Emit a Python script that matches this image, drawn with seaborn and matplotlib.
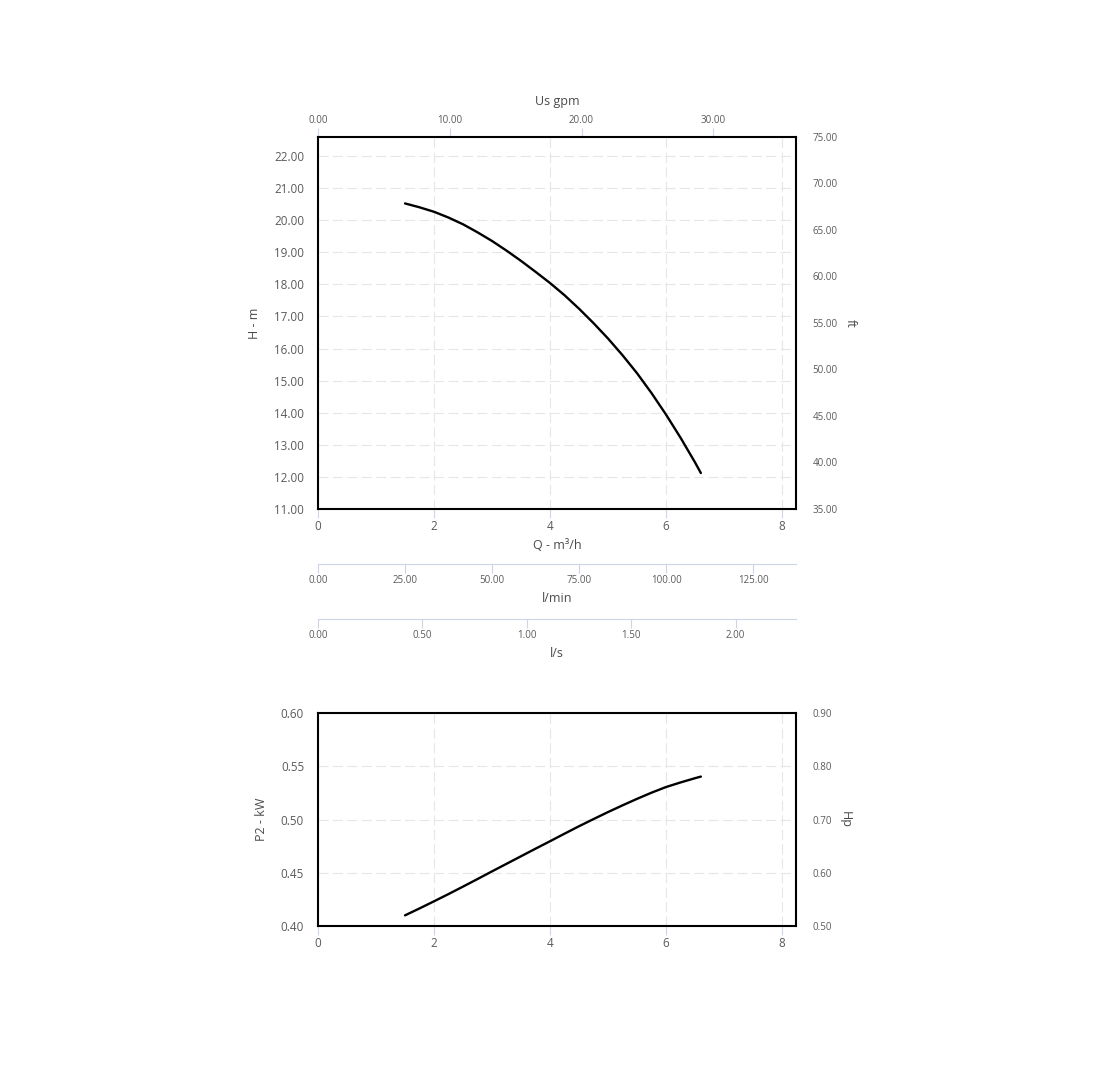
import matplotlib
matplotlib.use("Agg")
import matplotlib.pyplot as plt
import seaborn as sns
from matplotlib.ticker import FormatStrFormatter


# pump curve (m³/h, m, kW)
flow_m3h = [1.5, 1.75, 2.0, 2.25, 2.5, 2.75, 3.0, 3.25, 3.5, 3.75, 4.0, 4.25,
            4.5, 4.75, 5.0, 5.25, 5.5, 5.75, 6.0, 6.25, 6.5, 6.6]
head_m = [20.52, 20.40, 20.26, 20.08, 19.87, 19.62, 19.35, 19.05, 18.73, 18.39, 18.04, 17.66,
          17.24, 16.79, 16.31, 15.79, 15.23, 14.61, 13.94, 13.22, 12.45, 12.12]
power_kw = [0.4100, 0.4165, 0.4232, 0.4300, 0.4370, 0.4441, 0.4513, 0.4584, 0.4655, 0.4726,
            0.4796, 0.4867, 0.4937, 0.5004, 0.5070, 0.5133, 0.5194, 0.5252, 0.5305, 0.5348,
            0.5388, 0.5403]

q_ticks = [0, 2, 4, 6, 8]
head_ticks = [11, 12, 13, 14, 15, 16, 17, 18, 19, 20, 21, 22]
ft_ticks = [35, 40, 45, 50, 55, 60, 65, 70, 75]
gpm_ticks = [0, 10, 20, 30]
lmin_ticks = [0, 25, 50, 75, 100, 125]
ls_ticks = [0, 0.5, 1.0, 1.5, 2.0]
power_ticks = [0.40, 0.45, 0.50, 0.55, 0.60]
hp_ticks = [0.50, 0.60, 0.70, 0.80, 0.90]

Q_MAX = 8.24
HEAD_MAX = 22.59
GPM_PER_M3H = 4.40287

sns.set_theme(style="white")
plt.rcParams["font.family"] = ["Open Sans", "DejaVu Sans"]

LABEL = "#5a5a5a"
TITLE = "#4a4a4a"
AXIS_BLUE = "#ccd6eb"
GRID = "#e6e6e6"

W, H = 1113, 1081
fig = plt.figure(figsize=(W / 100, H / 100), dpi=100)


def box(left, top, right, bottom):
    return [left / W, 1 - bottom / H, (right - left) / W, (bottom - top) / H]


def style_panel(ax, yticks, ylim):
    ax.set_xlim(0, Q_MAX)
    ax.set_ylim(*ylim)
    ax.set_xticks(q_ticks)
    ax.set_yticks(yticks)
    ax.set_axisbelow(True)
    ax.grid(True, color=GRID, linewidth=0.8, linestyle=(0, (9, 4)))
    for spine in ax.spines.values():
        spine.set_color("black")
        spine.set_linewidth(1.5)
    ax.tick_params(axis="x", bottom=True, direction="out", length=6.5, width=0.8,
                   color=AXIS_BLUE, pad=1.5, labelsize=8.4, labelcolor=LABEL)
    ax.tick_params(axis="y", left=False, length=0, pad=10, labelsize=8.4, labelcolor=LABEL)
    ax.set_xlabel("")


def style_right(ax, yticks, ylim, label):
    ax.set_ylim(*ylim)
    ax.set_yticks(yticks)
    ax.yaxis.set_major_formatter(FormatStrFormatter("%.2f"))
    ax.grid(False)
    for spine in ax.spines.values():
        spine.set_visible(False)
    ax.tick_params(axis="y", right=False, length=0, pad=12, labelsize=7, labelcolor=LABEL)
    ax.set_ylabel(label, rotation=270, fontsize=9, color=TITLE, labelpad=14)


def unit_axis(top, scale, ticks, label):
    ax = fig.add_axes(box(318, top - 1, 796, top))
    ax.set_facecolor("none")
    ax.set_xlim(0, Q_MAX * scale)
    ax.set_xticks(ticks)
    ax.set_yticks([])
    ax.xaxis.set_major_formatter(FormatStrFormatter("%.2f"))
    for name, spine in ax.spines.items():
        spine.set_visible(name == "bottom")
    ax.spines["bottom"].set_color(AXIS_BLUE)
    ax.spines["bottom"].set_linewidth(0.8)
    ax.tick_params(axis="x", bottom=True, direction="out", length=6.5, width=0.8,
                   color=AXIS_BLUE, pad=1.5, labelsize=7, labelcolor=LABEL)
    ax.set_xlabel(label, fontsize=9, color=TITLE, labelpad=4)
    return ax


# head panel
ax_head = fig.add_axes(box(318, 137, 796, 509))
sns.lineplot(x=flow_m3h, y=head_m, ax=ax_head, color="black", linewidth=1.7)
style_panel(ax_head, head_ticks, (11, HEAD_MAX))
ax_head.yaxis.set_major_formatter(FormatStrFormatter("%.2f"))
ax_head.set_xlabel("Q - m³/h", fontsize=9, color=TITLE, labelpad=4)
ax_head.set_ylabel("H - m", fontsize=9, color=TITLE, labelpad=9)

ax_ft = ax_head.twinx()
style_right(ax_ft, ft_ticks, (35, 75), "ft")

gpm = ax_head.secondary_xaxis("top", functions=(lambda q: q * GPM_PER_M3H,
                                                  lambda g: g / GPM_PER_M3H))
gpm.set_xticks(gpm_ticks)
gpm.xaxis.set_major_formatter(FormatStrFormatter("%.2f"))
gpm.spines["top"].set_visible(False)
gpm.tick_params(axis="x", top=True, direction="out", length=6.5, width=0.8,
                color=AXIS_BLUE, pad=1.5, labelsize=7, labelcolor=LABEL)
gpm.set_xlabel("Us gpm", fontsize=9, color=TITLE, labelpad=7)

unit_axis(564, 1000 / 60, lmin_ticks, "l/min")
unit_axis(619, 1 / 3.6, ls_ticks, "l/s")

# power panel
ax_power = fig.add_axes(box(318, 713, 796, 926))
sns.lineplot(x=flow_m3h, y=power_kw, ax=ax_power, color="black", linewidth=1.7)
style_panel(ax_power, power_ticks, (0.40, 0.60))
ax_power.yaxis.set_major_formatter(FormatStrFormatter("%.2f"))
ax_power.set_ylabel("P2 - kW", fontsize=9, color=TITLE, labelpad=9)

ax_hp = ax_power.twinx()
style_right(ax_hp, hp_ticks, (0.50, 0.90), "Hp")

fig.savefig("out.png", dpi=100)
plt.close(fig)
